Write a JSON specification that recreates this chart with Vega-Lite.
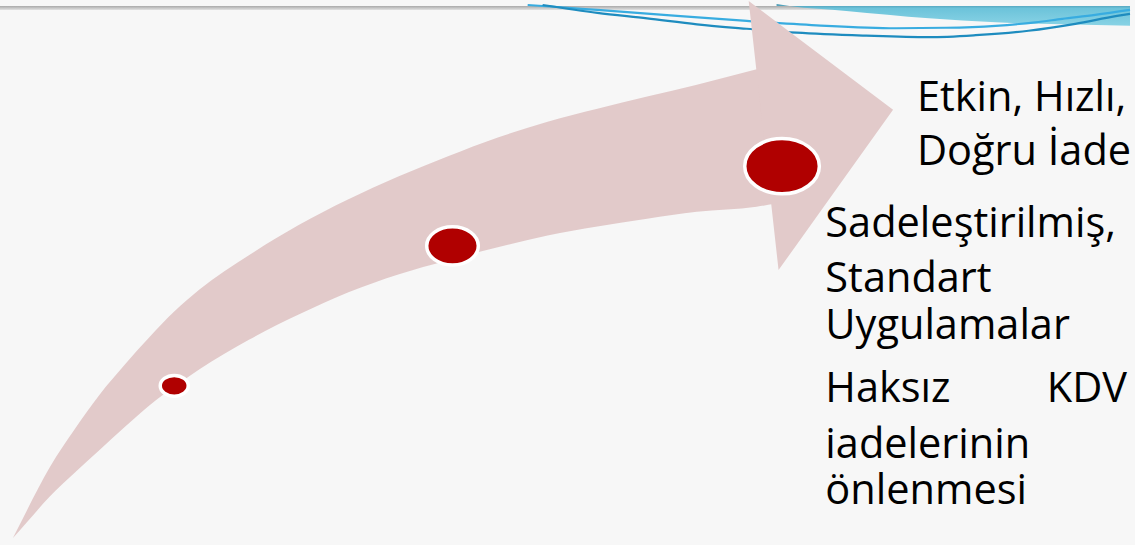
{
  "$schema": "https://vega.github.io/schema/vega-lite/v6.json",
  "width": 1135,
  "height": 545,
  "padding": 0,
  "autosize": {"type": "fit", "contains": "padding"},
  "background": "#f7f7f7",
  "config": {"view": {"stroke": null}},
  "datasets": {
    "strip": [{"x": 0, "x2": 1135, "y": 0, "y2": 4}],
    "bluefill": [
      {"x": 780, "top": 0, "bottom": -2},
      {"x": 793, "top": 0, "bottom": 0},
      {"x": 850, "top": 0, "bottom": 5},
      {"x": 933, "top": 0, "bottom": 12.5},
      {"x": 1000, "top": 0, "bottom": 16.5},
      {"x": 1067, "top": 0, "bottom": 18.5},
      {"x": 1135, "top": 0, "bottom": 20}
    ],
    "bluelines": [
      {"series": "A", "x": 530, "y": -1},
      {"series": "A", "x": 560, "y": 1},
      {"series": "A", "x": 600, "y": 4},
      {"series": "A", "x": 680, "y": 10},
      {"series": "A", "x": 750, "y": 15},
      {"series": "A", "x": 820, "y": 19.5},
      {"series": "A", "x": 900, "y": 22.5},
      {"series": "A", "x": 950, "y": 22},
      {"series": "A", "x": 1000, "y": 20},
      {"series": "A", "x": 1040, "y": 16.5},
      {"series": "A", "x": 1067, "y": 13},
      {"series": "A", "x": 1100, "y": 9},
      {"series": "A", "x": 1135, "y": 4},
      {"series": "B", "x": 545, "y": -1},
      {"series": "B", "x": 600, "y": 7},
      {"series": "B", "x": 650, "y": 12.5},
      {"series": "B", "x": 700, "y": 18.5},
      {"series": "B", "x": 750, "y": 23},
      {"series": "B", "x": 800, "y": 27},
      {"series": "B", "x": 870, "y": 30},
      {"series": "B", "x": 933, "y": 31.5},
      {"series": "B", "x": 980, "y": 29.5},
      {"series": "B", "x": 1033, "y": 25},
      {"series": "B", "x": 1080, "y": 18},
      {"series": "B", "x": 1122, "y": 10},
      {"series": "B", "x": 1135, "y": 8}
    ],
    "shaft": [
      {"x": 13, "top": 538, "bottom": 538},
      {"x": 27, "top": 510, "bottom": 522},
      {"x": 50, "top": 466.5, "bottom": 496},
      {"x": 75, "top": 428, "bottom": 472},
      {"x": 100, "top": 393, "bottom": 449},
      {"x": 125, "top": 363, "bottom": 426},
      {"x": 150, "top": 335, "bottom": 404},
      {"x": 175, "top": 309, "bottom": 385},
      {"x": 200, "top": 287, "bottom": 367.5},
      {"x": 250, "top": 252, "bottom": 337.5},
      {"x": 300, "top": 221.5, "bottom": 312},
      {"x": 350, "top": 195.5, "bottom": 289.5},
      {"x": 400, "top": 172.5, "bottom": 271.5},
      {"x": 450, "top": 152, "bottom": 257},
      {"x": 500, "top": 133, "bottom": 244},
      {"x": 550, "top": 117, "bottom": 232},
      {"x": 600, "top": 104, "bottom": 223},
      {"x": 650, "top": 91.5, "bottom": 215},
      {"x": 700, "top": 79.5, "bottom": 208},
      {"x": 760, "top": 64, "bottom": 203},
      {"x": 778, "top": 59.5, "bottom": 200}
    ],
    "head": [
      {"x": 752, "top": -5, "bottom": -5},
      {"x": 782, "top": 17.8, "bottom": 267},
      {"x": 800, "top": 31.4, "bottom": 241.6},
      {"x": 850, "top": 69.3, "bottom": 171.2},
      {"x": 897, "top": 105, "bottom": 105}
    ],
    "stages": [
      {"stage": 1, "x": 175, "y": 384},
      {"stage": 2, "x": 454.5, "y": 242.5},
      {"stage": 3, "x": 785.5, "y": 162}
    ],
    "textLeft": [
      {"label": "Etkin, Hızlı,", "x": 921, "y": 106},
      {"label": "Doğru İade", "x": 921, "y": 161},
      {"label": "Sadeleştirilmiş,", "x": 829, "y": 234},
      {"label": "Standart", "x": 829, "y": 289},
      {"label": "Uygulamalar", "x": 829, "y": 337},
      {"label": "Haksız", "x": 829, "y": 400},
      {"label": "iadelerinin", "x": 829, "y": 457},
      {"label": "önlenmesi", "x": 829, "y": 504}
    ],
    "textRight": [
      {"label": "KDV", "x": 1132, "y": 400}
    ]
  },
  "layer": [
    {
      "data": {"name": "strip"},
      "mark": {"type": "rect", "color": {"gradient": "linear", "x1": 0, "y1": 0, "x2": 0, "y2": 1, "stops": [{"offset": 0, "color": "#a9a9a9"}, {"offset": 1, "color": "#e2e2e2"}]}},
      "encoding": {
        "x": {"field": "x", "type": "quantitative", "scale": {"domain": [0, 1135], "nice": false, "zero": false}, "axis": null},
        "x2": {"field": "x2"},
        "y": {"field": "y", "type": "quantitative", "scale": {"domain": [0, 545], "reverse": true, "nice": false, "zero": false}, "axis": null},
        "y2": {"field": "y2"}
      }
    },
    {
      "data": {"name": "bluefill"},
      "mark": {"type": "area", "orient": "vertical", "interpolate": "monotone", "color": {"gradient": "linear", "x1": 0, "y1": 0, "x2": 0, "y2": 1, "stops": [{"offset": 0, "color": "#4692ad"}, {"offset": 0.2, "color": "#6cc3da"}, {"offset": 1, "color": "#89d3e5"}]}},
      "encoding": {
        "x": {"field": "x", "type": "quantitative", "scale": {"domain": [0, 1135], "nice": false, "zero": false}, "axis": null},
        "y": {"field": "top", "type": "quantitative", "scale": {"domain": [0, 545], "reverse": true, "nice": false, "zero": false}, "axis": null},
        "y2": {"field": "bottom"}
      }
    },
    {
      "data": {"name": "bluelines"},
      "mark": {"type": "line", "interpolate": "monotone", "strokeWidth": 2.2},
      "encoding": {
        "x": {"field": "x", "type": "quantitative", "scale": {"domain": [0, 1135], "nice": false, "zero": false}, "axis": null},
        "y": {"field": "y", "type": "quantitative", "scale": {"domain": [0, 545], "reverse": true, "nice": false, "zero": false}, "axis": null},
        "color": {"field": "series", "type": "nominal", "scale": {"domain": ["A", "B"], "range": ["#38ace0", "#1e8cbf"]}, "legend": null}
      }
    },
    {
      "data": {"name": "shaft"},
      "mark": {"type": "area", "orient": "vertical", "interpolate": "monotone", "color": "#e2caca", "opacity": 1},
      "encoding": {
        "x": {"field": "x", "type": "quantitative", "scale": {"domain": [0, 1135], "nice": false, "zero": false}, "axis": null},
        "y": {"field": "top", "type": "quantitative", "scale": {"domain": [0, 545], "reverse": true, "nice": false, "zero": false}, "axis": null},
        "y2": {"field": "bottom"}
      }
    },
    {
      "data": {"name": "head"},
      "mark": {"type": "area", "orient": "vertical", "interpolate": "linear", "color": "#e2caca", "opacity": 1},
      "encoding": {
        "x": {"field": "x", "type": "quantitative", "scale": {"domain": [0, 1135], "nice": false, "zero": false}, "axis": null},
        "y": {"field": "top", "type": "quantitative", "scale": {"domain": [0, 545], "reverse": true, "nice": false, "zero": false}, "axis": null},
        "y2": {"field": "bottom"}
      }
    },
    {
      "data": {"name": "stages"},
      "mark": {"type": "point", "filled": true, "shape": "M-1,0A1,0.74,0,1,1,1,0A1,0.74,0,1,1,-1,0Z", "fill": "#b00000", "stroke": "#ffffff", "strokeWidth": 3.5, "opacity": 1, "fillOpacity": 1, "strokeOpacity": 1},
      "encoding": {
        "x": {"field": "x", "type": "quantitative", "scale": {"domain": [0, 1135], "nice": false, "zero": false}, "axis": null},
        "y": {"field": "y", "type": "quantitative", "scale": {"domain": [0, 545], "reverse": true, "nice": false, "zero": false}, "axis": null},
        "size": {"field": "stage", "type": "quantitative", "scale": {"type": "linear", "domain": [1, 2, 3], "range": [784, 2663, 5565], "zero": false, "nice": false}, "legend": null}
      }
    },
    {
      "data": {"name": "textLeft"},
      "mark": {"type": "text", "align": "left", "baseline": "alphabetic", "font": "Open Sans", "fontSize": 41.5, "color": "#000000"},
      "encoding": {
        "x": {"field": "x", "type": "quantitative", "scale": {"domain": [0, 1135], "nice": false, "zero": false}, "axis": null},
        "y": {"field": "y", "type": "quantitative", "scale": {"domain": [0, 545], "reverse": true, "nice": false, "zero": false}, "axis": null},
        "text": {"field": "label", "type": "nominal"}
      }
    },
    {
      "data": {"name": "textRight"},
      "mark": {"type": "text", "align": "right", "baseline": "alphabetic", "font": "Open Sans", "fontSize": 41.5, "color": "#000000"},
      "encoding": {
        "x": {"field": "x", "type": "quantitative", "scale": {"domain": [0, 1135], "nice": false, "zero": false}, "axis": null},
        "y": {"field": "y", "type": "quantitative", "scale": {"domain": [0, 545], "reverse": true, "nice": false, "zero": false}, "axis": null},
        "text": {"field": "label", "type": "nominal"}
      }
    }
  ]
}
